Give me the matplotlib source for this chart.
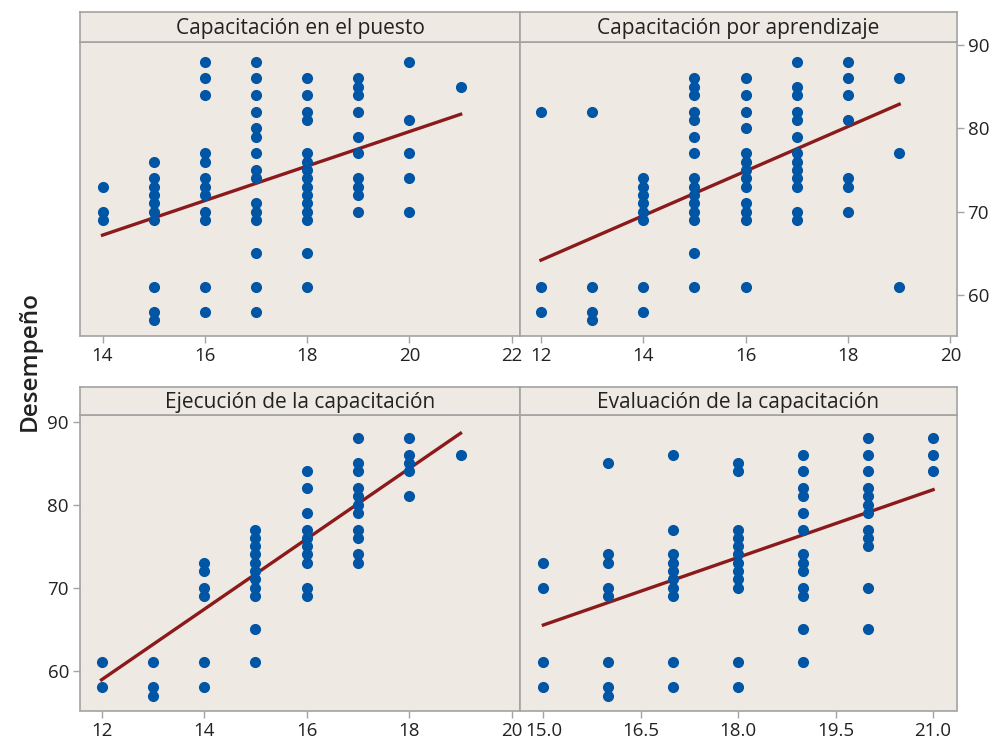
import matplotlib
matplotlib.use("Agg")
import matplotlib.pyplot as plt
import numpy as np

plt.rcParams['font.family'] = ['Open Sans', 'DejaVu Sans']

# Datos: valor x -> puntajes de desempeño
puesto = {14: [73, 70, 69],
          15: [76, 74, 73, 72, 71, 70, 69, 61, 58, 57],
          16: [88, 86, 84, 77, 76, 74, 73, 72, 70, 69, 61, 58],
          17: [88, 86, 84, 82, 80, 79, 77, 75, 74, 71, 70, 69, 65, 61, 58],
          18: [86, 84, 82, 81, 77, 76, 75, 74, 73, 72, 71, 70, 69, 65, 61],
          19: [86, 85, 84, 82, 79, 77, 74, 73, 72, 70],
          20: [88, 81, 77, 74, 70],
          21: [85]}
aprendizaje = {12: [82, 61, 58],
               13: [82, 61, 58, 57],
               14: [74, 73, 72, 71, 70, 69, 61, 58],
               15: [86, 85, 84, 82, 81, 79, 77, 74, 73, 72, 71, 70, 69, 65, 61],
               16: [86, 84, 82, 80, 77, 76, 75, 74, 73, 71, 70, 69, 61],
               17: [88, 85, 84, 82, 81, 79, 77, 76, 75, 74, 73, 70, 69],
               18: [88, 86, 84, 81, 74, 73, 70],
               19: [86, 77, 61]}
ejecucion = {12: [61, 58],
             13: [61, 58, 57],
             14: [73, 72, 70, 69, 61, 58],
             15: [77, 76, 75, 74, 73, 72, 71, 70, 69, 65, 61],
             16: [84, 82, 79, 77, 76, 75, 74, 73, 70, 69],
             17: [88, 85, 84, 82, 81, 80, 79, 77, 76, 74, 73],
             18: [88, 86, 85, 84, 81],
             19: [86]}
evaluacion = {15: [73, 70, 61, 58],
              16: [85, 74, 73, 70, 69, 61, 58, 57],
              17: [86, 77, 74, 73, 72, 71, 70, 69, 61, 58],
              18: [85, 84, 77, 76, 75, 74, 73, 72, 71, 70, 61, 58],
              19: [86, 84, 82, 81, 79, 77, 74, 73, 72, 70, 69, 65, 61],
              20: [88, 86, 84, 82, 81, 80, 79, 77, 76, 75, 70, 65],
              21: [88, 86, 84]}

# rectas de ajuste (extremos leidos)
puesto_fit = ([14, 21], [67.2, 81.7])
aprendizaje_fit = ([12, 19], [64.2, 82.9])
ejecucion_fit = ([12, 19], [58.9, 88.6])
evaluacion_fit = ([15, 21], [65.5, 81.8])

titulos = ["Capacitación en el puesto", "Capacitación por aprendizaje",
           "Ejecución de la capacitación", "Evaluación de la capacitación"]

W, H = 998, 745
fig = plt.figure(figsize=(W / 100, H / 100), dpi=100)
fig.set_facecolor("white")

bg = "#EEE9E3"
borde = "#A3A3A3"
azul = "#0055A5"
rojo = "#8B1A1A"


def caja(x0, y0, x1, y1):
    return [x0 / W, 1 - y1 / H, (x1 - x0) / W, (y1 - y0) / H]


paneles = [
    (puesto, puesto_fit, caja(80, 42, 520, 336), caja(80, 12, 520, 42),
     (13.56, 22.16), (55.1, 90.37), [14, 16, 18, 20, 22], None),
    (aprendizaje, aprendizaje_fit, caja(520, 42, 956.5, 336), caja(520, 12, 956.5, 42),
     (11.59, 20.12), (55.1, 90.37), [12, 14, 16, 18, 20], "right"),
    (ejecucion, ejecucion_fit, caja(80, 415, 520, 710.5), caja(80, 387, 520, 415),
     (11.58, 20.16), (55.2, 90.8), [12, 14, 16, 18, 20], "left"),
    (evaluacion, evaluacion_fit, caja(520, 415, 956.5, 710.5), caja(520, 387, 956.5, 415),
     (14.64, 21.36), (55.2, 90.8), [15.0, 16.5, 18.0, 19.5, 21.0], None),
]

for i, (datos, fit, r_ax, r_tit, xl, yl, xt, ylado) in enumerate(paneles):
    ax = fig.add_axes(r_ax)
    ax.set_facecolor(bg)
    xs = np.concatenate([[k] * len(v) for k, v in datos.items()])
    ys = np.concatenate([v for v in datos.values()])
    ax.plot(xs, ys, 'o', color=azul, markersize=7, zorder=3)
    ax.plot(fit[0], fit[1], color=rojo, linewidth=2.4, zorder=2)
    ax.set_xlim(*xl)
    ax.set_ylim(*yl)
    ax.set_xticks(xt)
    if i == 3:
        ax.set_xticklabels([f"{t:.1f}" for t in xt])
    ax.set_yticks([60, 70, 80, 90])
    if ylado == "right":
        ax.yaxis.tick_right()
    elif ylado is None:
        ax.tick_params(axis='y', left=False, labelleft=False)
    for s in ax.spines.values():
        s.set_color(borde)
        s.set_linewidth(1.2)
    ax.tick_params(colors=borde, labelcolor="#222222", labelsize=13.5,
                   length=5, width=1, pad=3)

    axt = fig.add_axes(r_tit)
    axt.set_facecolor(bg)
    axt.set_xticks([])
    axt.set_yticks([])
    for s in axt.spines.values():
        s.set_color(borde)
        s.set_linewidth(1.2)
    axt.text(0.5, 0.45, titulos[i], ha='center', va='center', fontsize=15,
             color="#222222", transform=axt.transAxes)

fig.text(30 / W, 1 - 361 / H, "Desempeño", rotation=90, ha='center', va='center',
         fontsize=17.5, fontweight='semibold', color="#222222")

fig.savefig("out.png", dpi=100, facecolor=fig.get_facecolor())
